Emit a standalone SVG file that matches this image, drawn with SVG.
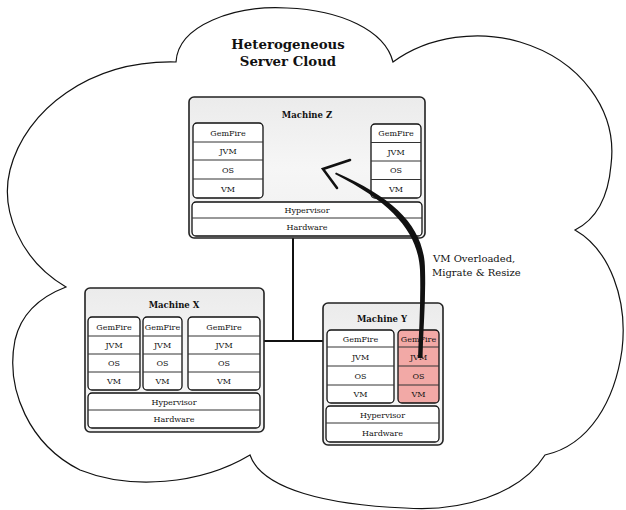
<svg xmlns="http://www.w3.org/2000/svg" width="626" height="510" viewBox="0 0 626 510">
<defs>
<linearGradient id="mg" x1="0" y1="0" x2="0" y2="1">
<stop offset="0" stop-color="#ebebeb"/>
<stop offset="0.5" stop-color="#f6f6f6"/>
<stop offset="1" stop-color="#f0f0f0"/>
</linearGradient>
<style>
.machine{fill:url(#mg);stroke:#222;stroke-width:1.6}
.stack{fill:#fff;stroke:#111;stroke-width:1.3}
.red{fill:#f2a9a6;stroke:#111;stroke-width:1.3}
.div{stroke:#333;stroke-width:1}
.t{font-family:"DejaVu Serif","Liberation Serif",serif;font-size:8px;fill:#111;text-anchor:middle}
.mt{font-family:"DejaVu Serif","Liberation Serif",serif;font-size:8.5px;font-weight:bold;fill:#111;text-anchor:middle}
.title{font-family:"DejaVu Serif","Liberation Serif",serif;font-size:13.3px;font-weight:bold;fill:#111;text-anchor:middle}
.lbl{font-family:"DejaVu Serif","Liberation Serif",serif;font-size:10px;fill:#111}
.conn{stroke:#111;stroke-width:2;fill:none}
</style>
</defs>
<rect width="626" height="510" fill="#fff"/>
<g id="cloud">
<path d="M176,62 C178,25 235,5 287,8 C340,10 385,30 393,62 C430,35 480,30 520,42 C580,60 618,110 611,165 C608,200 595,220 575,230 C610,250 628,300 622,350 C615,400 590,445 545,455 C520,495 460,512 405,508 C330,505 262,490 250,455 C200,485 130,490 80,470 C30,445 5,390 15,340 C22,310 45,295 66,287 C20,260 0,210 10,170 C25,110 90,60 176,62 Z" fill="#fff" stroke="#111" stroke-width="1.2"/>
<text class="title" x="288" y="49">Heterogeneous</text>
<text class="title" x="288" y="66">Server Cloud</text>
</g>
<g id="connectors">
<path class="conn" d="M293,238 V341 M264,341 H323"/>
</g>
<g id="machine-z">
<rect class="machine" x="189" y="97" width="236" height="141" rx="5"/>
<text class="mt" x="307" y="118">Machine Z</text>
<rect class="stack" x="193" y="123" width="70" height="75" rx="4"/>
<path class="div" d="M193,142 H263 M193,160 H263 M193,179 H263"/>
<text class="t" x="228" y="135.5">GemFire</text>
<text class="t" x="228" y="154">JVM</text>
<text class="t" x="228" y="172.5">OS</text>
<text class="t" x="228" y="191.5">VM</text>
<rect class="stack" x="371" y="124" width="50" height="74" rx="4"/>
<path class="div" d="M371,142.5 H421 M371,161 H421 M371,179.5 H421"/>
<text class="t" x="396" y="136">GemFire</text>
<text class="t" x="396" y="154.5">JVM</text>
<text class="t" x="396" y="173">OS</text>
<text class="t" x="396" y="191.5">VM</text>
<rect class="stack" x="192" y="202" width="230" height="34" rx="4"/>
<path class="div" d="M192,218 H422"/>
<text class="t" x="307" y="213">Hypervisor</text>
<text class="t" x="307" y="230">Hardware</text>
</g>
<g id="machine-x">
<rect class="machine" x="85" y="288" width="179" height="144" rx="5"/>
<text class="mt" x="174" y="308">Machine X</text>
<rect class="stack" x="88" y="317" width="52" height="73" rx="4"/>
<rect class="stack" x="143" y="317" width="39" height="73" rx="4"/>
<rect class="stack" x="188" y="317" width="72" height="73" rx="4"/>
<path class="div" d="M88,336 H140 M88,354 H140 M88,372 H140 M143,336 H182 M143,354 H182 M143,372 H182 M188,336 H260 M188,354 H260 M188,372 H260"/>
<text class="t" x="114" y="329.5">GemFire</text>
<text class="t" x="114" y="348">JVM</text>
<text class="t" x="114" y="366">OS</text>
<text class="t" x="114" y="384">VM</text>
<text class="t" x="162.5" y="329.5">GemFire</text>
<text class="t" x="162.5" y="348">JVM</text>
<text class="t" x="162.5" y="366">OS</text>
<text class="t" x="162.5" y="384">VM</text>
<text class="t" x="224" y="329.5">GemFire</text>
<text class="t" x="224" y="348">JVM</text>
<text class="t" x="224" y="366">OS</text>
<text class="t" x="224" y="384">VM</text>
<rect class="stack" x="88" y="393" width="172" height="35" rx="4"/>
<path class="div" d="M88,410 H260"/>
<text class="t" x="174" y="404.5">Hypervisor</text>
<text class="t" x="174" y="422">Hardware</text>
</g>
<g id="machine-y">
<rect class="machine" x="323" y="303" width="120" height="142" rx="5"/>
<text class="mt" x="382" y="322">Machine Y</text>
<rect class="stack" x="327" y="330" width="67" height="73" rx="4"/>
<path class="div" d="M327,347 H394 M327,366 H394 M327,385 H394"/>
<text class="t" x="360.5" y="341.5">GemFire</text>
<text class="t" x="360.5" y="359.5">JVM</text>
<text class="t" x="360.5" y="378.5">OS</text>
<text class="t" x="360.5" y="397">VM</text>
<rect class="red" x="398" y="330" width="41" height="73" rx="4"/>
<path class="div" d="M398,347 H439 M398,366 H439 M398,385 H439"/>
<text class="t" x="418.5" y="341.5">GemFire</text>
<text class="t" x="418.5" y="359.5">JVM</text>
<text class="t" x="418.5" y="378.5">OS</text>
<text class="t" x="418.5" y="397">VM</text>
<rect class="stack" x="326" y="406" width="113" height="36" rx="4"/>
<path class="div" d="M326,423 H439"/>
<text class="t" x="382.5" y="417.5">Hypervisor</text>
<text class="t" x="382.5" y="435.5">Hardware</text>
</g>
<g id="migration-arrow">
<path d="M418,358 C419,330 421,300 420,270 C418,233 394,204 335,174 L336,172.5 C397,199 425,229 425,270 C426,300 423,330 422.5,358 Z" fill="#111"/>
<polyline points="350,160 323,169 337,188" fill="none" stroke="#111" stroke-width="2.6" stroke-linejoin="miter" stroke-linecap="round"/>
<text class="lbl" x="433" y="262">VM Overloaded,</text>
<text class="lbl" x="432" y="276">Migrate &amp; Resize</text>
</g>
</svg>
